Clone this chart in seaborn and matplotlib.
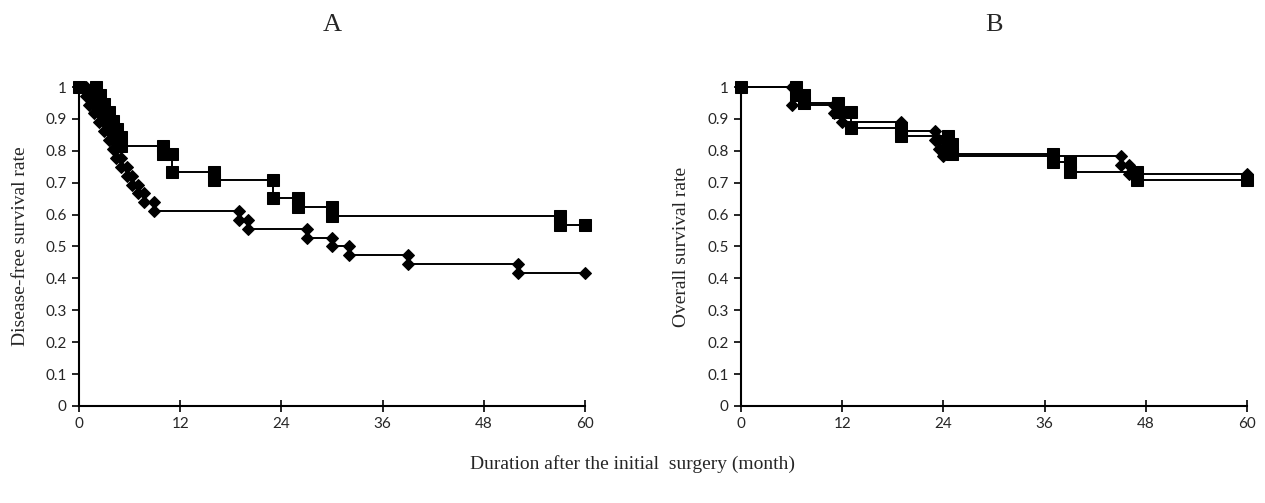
import matplotlib
matplotlib.use("Agg")
import matplotlib.pyplot as plt
import seaborn as sns
import pandas as pd

# panel A: disease-free survival, event times (months) and survival after each event
a_sq_t = [2, 2.5, 3, 3.5, 4, 4.5, 5, 10, 11, 16, 23, 26, 30, 57]
a_sq_s = [0.974, 0.947, 0.921, 0.895, 0.868, 0.842, 0.815, 0.790, 0.733, 0.708, 0.652, 0.624, 0.597, 0.567]
a_dm_t = [0.8, 1.2, 1.8, 2.4, 3.0, 3.6, 4.0, 4.4, 5.0, 5.7, 6.3, 7.0, 7.7, 8.9, 19, 20, 27, 30, 32, 39, 52]
a_dm_s = [0.972, 0.944, 0.917, 0.889, 0.861, 0.833, 0.806, 0.778, 0.750, 0.722, 0.694, 0.667, 0.639, 0.611,
          0.583, 0.556, 0.528, 0.500, 0.472, 0.444, 0.417]

# panel B: overall survival
b_sq_t = [6.5, 7.5, 11.5, 13, 19, 24.5, 25, 37, 39, 47]
b_sq_s = [0.974, 0.949, 0.923, 0.872, 0.846, 0.820, 0.790, 0.765, 0.735, 0.710]
b_dm_t = [6, 11, 12, 19, 23, 23.5, 24, 45, 46]
b_dm_s = [0.944, 0.917, 0.889, 0.861, 0.833, 0.806, 0.785, 0.757, 0.728]

x_ticks = [0, 12, 24, 36, 48, 60]
y_ticks = [0, 0.1, 0.2, 0.3, 0.4, 0.5, 0.6, 0.7, 0.8, 0.9, 1.0]
y_labels = ["0", "0.1", "0.2", "0.3", "0.4", "0.5", "0.6", "0.7", "0.8", "0.9", "1"]
end_month = 60


def km_steps(times, surv):
    xs, ys = [0], [1.0]
    prev = 1.0
    for t, s in zip(times, surv):
        xs += [t, t]
        ys += [prev, s]
        prev = s
    xs.append(end_month)
    ys.append(prev)
    return pd.DataFrame({"month": xs, "surv": ys})


sns.set_style("ticks")
plt.rcParams['font.family'] = ['Lato', 'DejaVu Sans']

fig = plt.figure(figsize=(12.65, 5.03), dpi=100)
axA = fig.add_axes([0.0625, 0.193, 0.4, 0.634])
axB = fig.add_axes([0.5858, 0.193, 0.4, 0.634])

serif = ['Liberation Serif', 'DejaVu Serif']

for ax, sq, dm, title, ylab in [
    (axA, (a_sq_t, a_sq_s), (a_dm_t, a_dm_s), "A", "Disease-free survival rate"),
    (axB, (b_sq_t, b_sq_s), (b_dm_t, b_dm_s), "B", "Overall survival rate"),
]:
    d1 = km_steps(*sq)
    d2 = km_steps(*dm)
    sns.lineplot(data=d1, x="month", y="surv", sort=False, estimator=None, ax=ax,
                 color="black", lw=1.4, marker="s", markersize=8, mec="black", mfc="black",
                 clip_on=False, zorder=3)
    sns.lineplot(data=d2, x="month", y="surv", sort=False, estimator=None, ax=ax,
                 color="black", lw=1.4, marker="D", markersize=6.3, mec="black", mfc="black",
                 clip_on=False, zorder=3)
    ax.set_xlim(0, 60)
    ax.set_ylim(0, 1)
    ax.set_xticks(x_ticks)
    ax.set_xticklabels([str(v) for v in x_ticks])
    ax.set_yticks(y_ticks)
    ax.set_yticklabels(y_labels)
    ax.tick_params(axis="x", direction="inout", length=8, width=1.2, labelsize=11, pad=4, color="black")
    ax.tick_params(axis="y", direction="out", length=5, width=1.2, labelsize=11, pad=4, color="black")
    for sp in ["left", "bottom"]:
        ax.spines[sp].set_linewidth(1.5)
        ax.spines[sp].set_color("black")
    sns.despine(ax=ax)
    ax.set_xlabel("")
    ax.set_ylabel(ylab, family=serif, fontsize=14, labelpad=12)
    ax.set_title(title, family=serif, fontsize=19, pad=40)

fig.text(0.5, 0.077, "Duration after the initial  surgery (month)", ha="center", va="center",
         family=serif, fontsize=14)

fig.savefig("out.png", dpi=100)
